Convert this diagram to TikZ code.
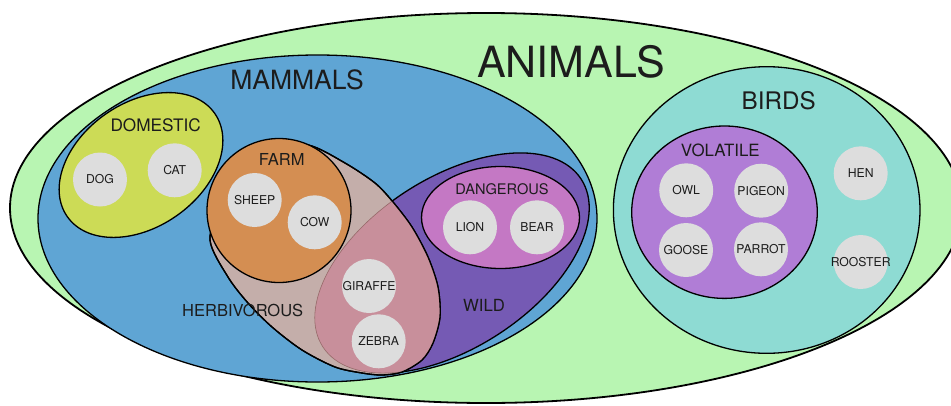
\documentclass[tikz,border=0pt]{standalone}
\usepackage{fontspec}
\setmainfont{TeX Gyre Heros}
\usepackage{xcolor}
\usepackage{tikz}
\usetikzlibrary{shapes.geometric}
\definecolor{mintgreen}{RGB}{184,245,178}
\definecolor{skyblue}{RGB}{95,165,212}
\definecolor{limeyellow}{RGB}{204,219,86}
\definecolor{farmorange}{RGB}{212,142,82}
\definecolor{dusttan}{RGB}{196,174,170}
\definecolor{rosepink}{RGB}{200,143,155}
\definecolor{rosebrown}{RGB}{150,105,105}
\definecolor{wildpurple}{RGB}{117,90,180}
\definecolor{orchidpink}{RGB}{196,120,196}
\definecolor{tealsoft}{RGB}{142,219,211}
\definecolor{lilacpurple}{RGB}{176,125,214}
\definecolor{itemgray}{RGB}{221,221,221}
\definecolor{inkdark}{RGB}{28,28,28}
\newcommand{\herbpath}{plot[smooth cycle] coordinates {(308,145) (345,163)
  (375,183) (393,202) (412,227) (428,257) (438,287) (440,317) (433,343)
  (422,360) (402,372) (382,375) (362,373) (335,367) (302,350) (272,327)
  (248,303) (228,277) (210,240) (222,200) (240,168) (272,150)}}
\tikzset{
  setshape/.style={draw=black,line width=1.3pt,inner sep=0pt},
  item/.style={circle,fill=itemgray,minimum size=54pt,inner sep=0pt,
    text=inkdark,font=\fontsize{12.2}{13}\selectfont},
  setlabel/.style={text=inkdark,inner sep=0pt,
    font=\fontsize{#1}{#1}\selectfont}
}

\begin{document}
\begin{tikzpicture}[x=1pt,y=-1pt]
  \useasboundingbox (0,0) rectangle (951,405);
  \fill[white] (0,0) rectangle (951,405);
  \node[setshape,ellipse,fill=mintgreen,line width=1.8pt,
    minimum width=952pt,minimum height=390pt] (animals) at (486,208) {};
  \node[setshape,ellipse,fill=skyblue,
    minimum width=559pt,minimum height=327pt] (mammals) at (317.5,218.5) {};
  \node[setshape,ellipse,fill=limeyellow,rotate=35,
    minimum width=180pt,minimum height=124pt] (domestic) at (141,165) {};
  \draw[setshape,fill=wildpurple,rotate around={33:(452,263)}]
    (452,263) ellipse [x radius=154,y radius=85];
  \draw[setshape,fill=dusttan] \herbpath;
  \begin{scope}
    \clip \herbpath;
    \draw[fill=rosepink,draw=rosebrown,line width=0.6pt,
      rotate around={33:(452,263)}] (452,263) ellipse [x radius=154,y radius=85];
  \end{scope}
  \draw[setshape] \herbpath;
  \node[setshape,circle,fill=farmorange,minimum size=144pt] (farm) at (279,210.5) {};
  \node[setshape,ellipse,fill=orchidpink,
    minimum width=158pt,minimum height=102pt] (dangerous) at (500.5,217.5) {};
  \node[setshape,ellipse,fill=tealsoft,
    minimum width=306.6pt,minimum height=286.6pt] (birds) at (766.7,210) {};
  \node[setshape,ellipse,fill=lilacpurple,
    minimum width=185.6pt,minimum height=172.4pt] (volatile) at (724.5,212.2) {};
  \foreach \nome/\x/\y/\txt in {dog/100/179.5/DOG,cat/174.7/170.3/CAT,
      sheep/254.7/200/SHEEP,cow/314.7/222.3/COW,giraffe/369/286/GIRAFFE,
      zebra/378.7/341.3/ZEBRA,lion/470/227.3/LION,bear/537/227.3/BEAR,
      owl/686.2/190.3/OWL,pigeon/761.2/190.7/PIGEON,goose/686/250/GOOSE,
      parrot/761/249.3/PARROT,hen/860.7/173.3/HEN,rooster/860.7/262/ROOSTER}
    {\node[item] (\nome) at (\x,\y) {\makebox[0pt]{\txt}};}
  \node[setlabel=43] (animalslabel) at (571,62) {ANIMALS};
  \node[setlabel=26.5] (mammalslabel) at (297,80) {MAMMALS};
  \node[setlabel=24.2] (birdslabel) at (778.7,100.3) {BIRDS};
  \node[setlabel=17.2] (domesticlabel) at (155.7,125.7) {DOMESTIC};
  \node[setlabel=16.5] (farmlabel) at (281.7,159.3) {FARM};
  \node[setlabel=16.5] (herblabel) at (242.7,310) {HERBIVOROUS};
  \node[setlabel=16.7] (wildlabel) at (484,305.7) {WILD};
  \node[setlabel=14.6] (dangerouslabel) at (502,189.3) {DANGEROUS};
  \node[setlabel=16.9] (volatilelabel) at (720.3,150) {VOLATILE};
\end{tikzpicture}
\end{document}
